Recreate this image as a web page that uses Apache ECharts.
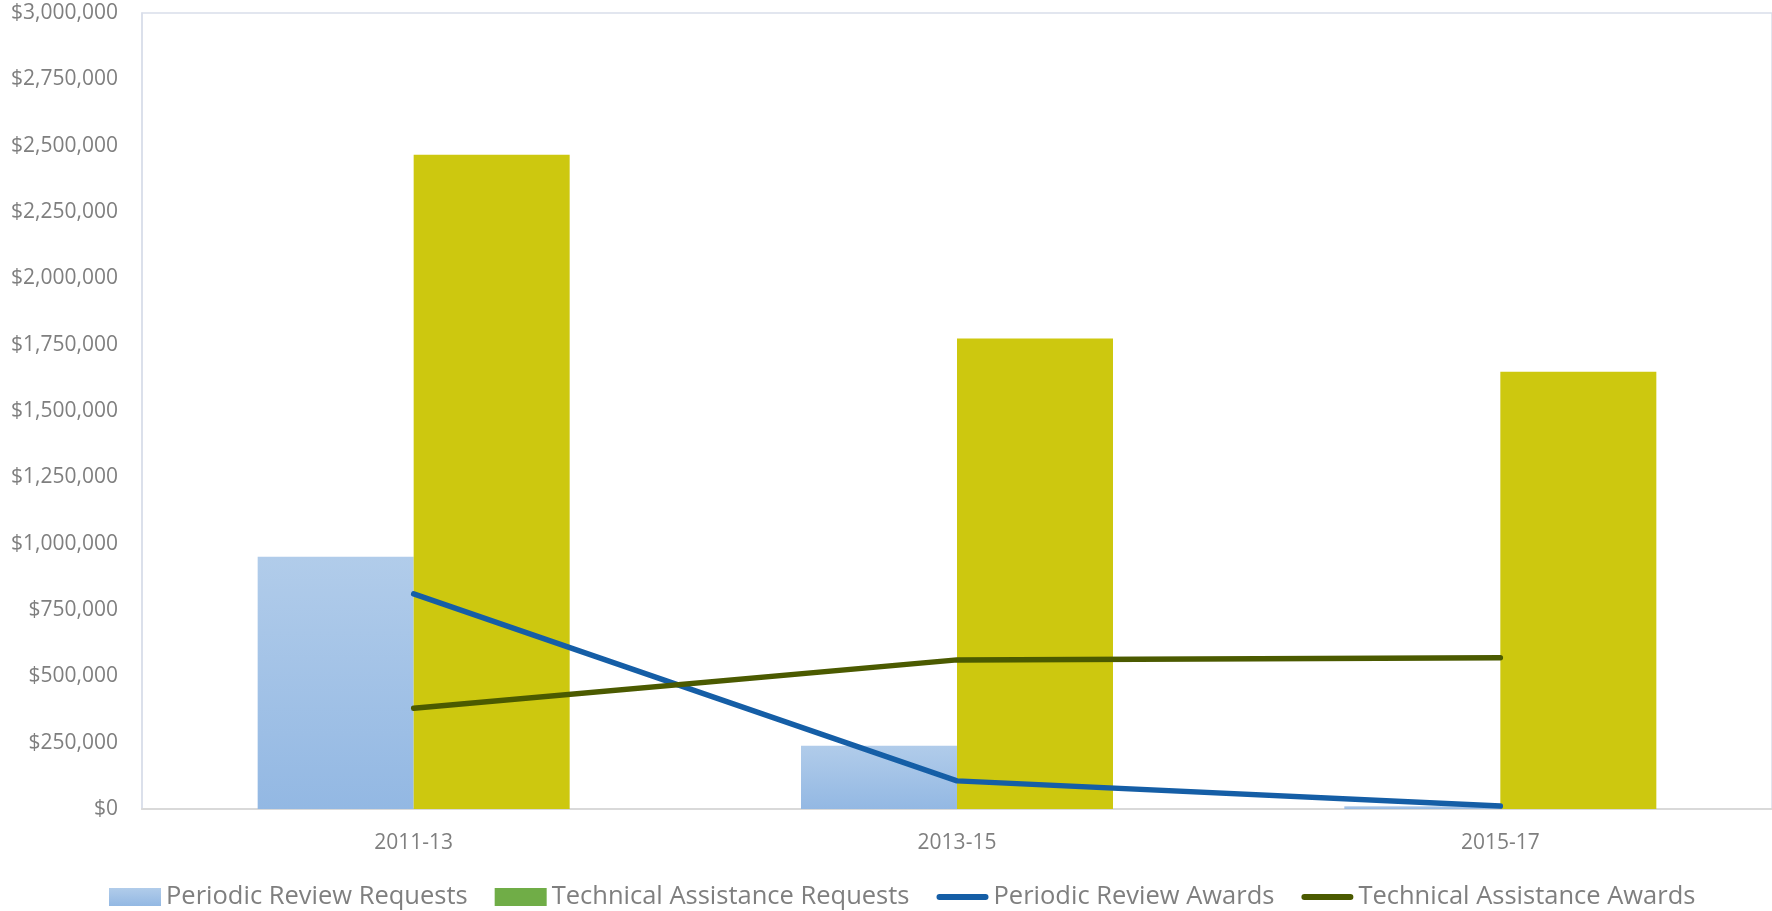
<!DOCTYPE html>
<html>
<head>
<meta charset="utf-8">
<script src="https://cdn.jsdelivr.net/npm/echarts@6/dist/echarts.min.js"></script>
<style>
  html, body { margin: 0; padding: 0; background: #fff; }
  #chart { width: 1772px; height: 911px; }
</style>
</head>
<body>
<div id="chart"></div>
<script>
  // values
  const periods = ['2011-13', '2013-15', '2015-17'];
  const periodicReviewRequests = [951000, 238000, 10000];
  const technicalAssistanceRequests = [2466000, 1773000, 1648000];
  const periodicReviewAwards = [811000, 106000, 11000];
  const technicalAssistanceAwards = [380000, 562000, 570000];

  const textGrey = '#7F7F7F';
  const money = v => '$' + v.toLocaleString('en-US');
  // short thick line with round ends, for the line series in the legend
  const lineIcon = 'path://M3,0 L49,0 A3,3 0 0 1 49,6 L3,6 A3,3 0 0 1 3,0 Z';

  const myChart = echarts.init(document.getElementById('chart'));
  const option = {
    animation: false,
    textStyle: { fontFamily: 'Open Sans' },
    grid: {
      left: 142,
      right: 0,
      top: 13,
      bottom: 102,
      show: true,
      borderColor: '#D9DEEA',
      borderWidth: 1.5
    },
    legend: {
      left: 104,
      top: 879,
      itemGap: 27,
      itemWidth: 52,
      itemHeight: 18,
      textStyle: { fontSize: 25.5, color: textGrey, fontFamily: 'Open Sans' },
      data: [
        { name: 'Periodic Review Requests', icon: 'rect' },
        { name: 'Technical Assistance Requests', icon: 'rect', itemStyle: { color: '#70AD47' } },
        { name: 'Periodic Review Awards', icon: lineIcon },
        { name: 'Technical Assistance Awards', icon: lineIcon }
      ]
    },
    xAxis: {
      type: 'category',
      data: periods,
      axisLine: { lineStyle: { color: '#D9D9D9', width: 2 } },
      axisTick: { show: false },
      axisLabel: { color: textGrey, fontSize: 21, margin: 24 }
    },
    yAxis: {
      type: 'value',
      min: 0,
      max: 3000000,
      interval: 250000,
      splitLine: { show: false },
      axisLine: { show: true, lineStyle: { color: '#D9DEEA', width: 1.5 } },
      axisLabel: { color: textGrey, fontSize: 21, margin: 24, formatter: money }
    },
    series: [
      {
        name: 'Periodic Review Requests',
        type: 'bar',
        barWidth: 156,
        barGap: 0,
        itemStyle: {
          color: new echarts.graphic.LinearGradient(0, 0, 0, 1, [
            { offset: 0, color: '#B1CCEA' },
            { offset: 1, color: '#93B8E3' }
          ])
        },
        data: periodicReviewRequests
      },
      {
        name: 'Technical Assistance Requests',
        type: 'bar',
        barWidth: 156,
        barGap: 0,
        itemStyle: { color: '#CDC80F' },
        data: technicalAssistanceRequests
      },
      {
        name: 'Periodic Review Awards',
        type: 'line',
        symbol: 'none',
        lineStyle: { color: '#155EA6', width: 5.5, cap: 'round', join: 'round' },
        itemStyle: { color: '#155EA6' },
        data: periodicReviewAwards
      },
      {
        name: 'Technical Assistance Awards',
        type: 'line',
        symbol: 'none',
        lineStyle: { color: '#4B5A00', width: 5.5, cap: 'round', join: 'round' },
        itemStyle: { color: '#4B5A00' },
        data: technicalAssistanceAwards
      }
    ]
  };
  myChart.setOption(option);
  window.addEventListener('resize', () => {
    myChart.resize();
  });
</script>
</body>
</html>
